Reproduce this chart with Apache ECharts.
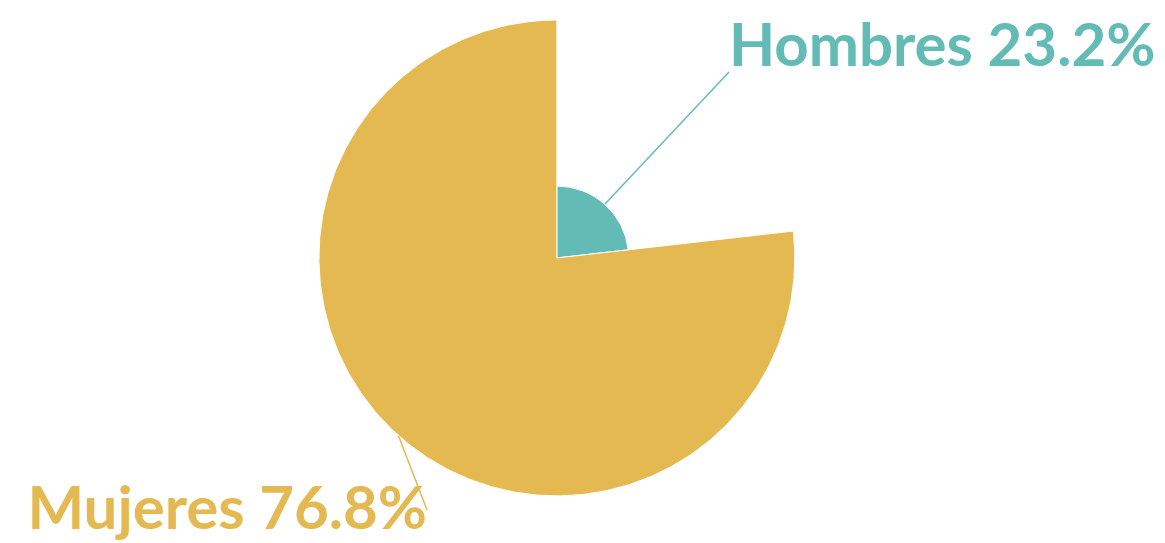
<!DOCTYPE html>
<html>
<head>
<meta charset="utf-8">
<script src="https://cdn.jsdelivr.net/npm/echarts@6/dist/echarts.min.js"></script>
<style>
  html, body { margin: 0; padding: 0; background: #fff; }
  #chart { width: 1165px; height: 543px; }
</style>
</head>
<body>
<div id="chart"></div>
<script>
const categories = ["Hombres", "Mujeres"];
const values = [23.2, 76.8];
const colors = ["#62bcb5", "#e4b951"];

// where each label sits: [x, y, align]
const labelSpots = [
  [729, 72, "left"],
  [427, 510, "right"],
];

const chart = echarts.init(document.getElementById("chart"));

const pieData = categories.map((name, i) => ({
  name: name,
  value: values[i],
  itemStyle: { color: colors[i] },
  label: { color: colors[i] },
  labelLine: {
    length2: i === 0 ? 0 : 37,
    lineStyle: { color: colors[i] },
  },
}));

const option = {
  animation: false,
  series: [
    {
      type: "pie",
      roseType: "radius",
      center: ["47.8%", "47.5%"],
      radius: [0, 238],
      startAngle: 90,
      clockwise: true,
      itemStyle: { borderColor: "#fff", borderWidth: 1 },
      label: {
        show: true,
        position: "outside",
        overflow: "none",
        formatter: (p) => {
          const txt = p.name + " " + p.value.toFixed(1) + "%";
          // hombres label hangs above its line end
          return p.dataIndex === 0 ? txt + "\n " : txt;
        },
        fontFamily: "Lato",
        fontWeight: "bold",
        fontSize: 60,
        lineHeight: 50,
      },
      labelLine: { show: true, length: 20, lineStyle: { width: 1.5 } },
      labelLayout: (params) => {
        const s = labelSpots[params.dataIndex];
        return { x: s[0], y: s[1], align: s[2], verticalAlign: "middle" };
      },
      data: pieData,
    },
  ],
};

chart.setOption(option);
</script>
</body>
</html>
